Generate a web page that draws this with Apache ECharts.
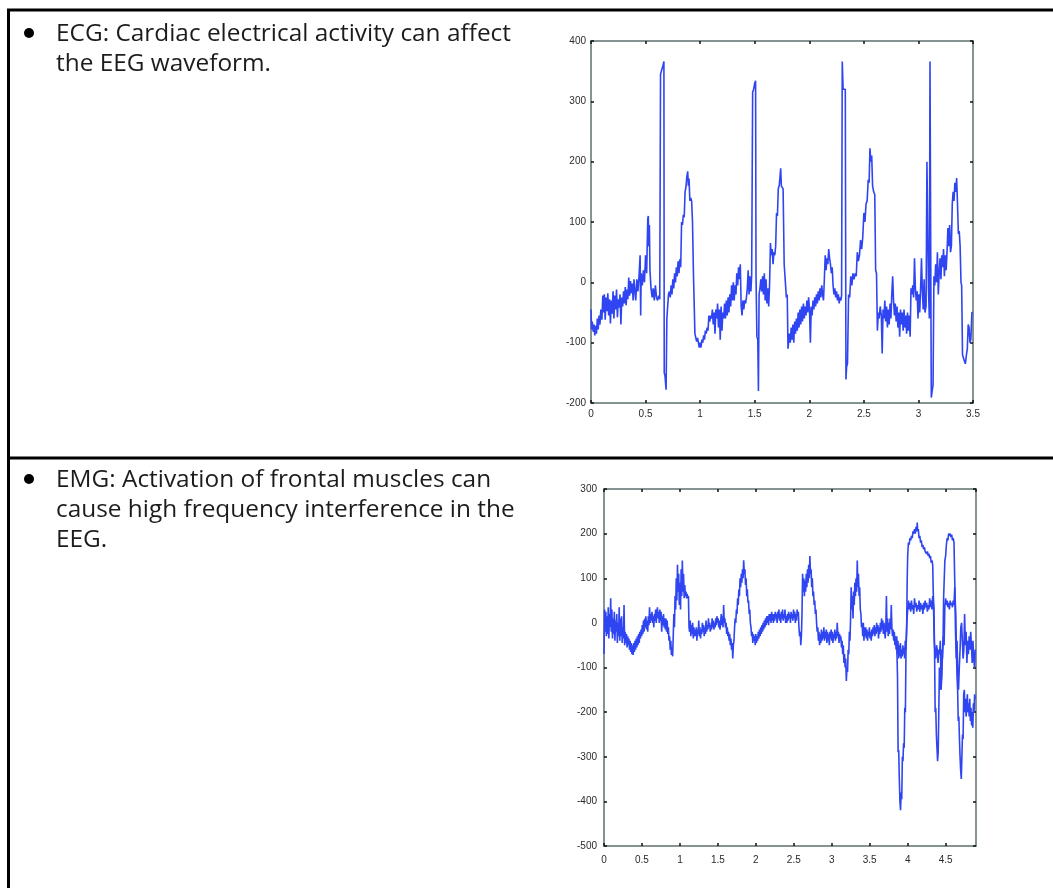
<!DOCTYPE html>
<html><head><meta charset="utf-8">
<script src="https://cdn.jsdelivr.net/npm/echarts/dist/echarts.min.js"></script>
<style>html,body{margin:0;padding:0;background:#fff;}#c{width:1053px;height:888px;}</style>
</head><body><div id="c"></div><script>
// ---- text ----
const ecgLines = ["ECG: Cardiac electrical activity can affect", "the EEG waveform."];
const emgLines = ["EMG: Activation of frontal muscles can", "cause high frequency interference in the", "EEG."];

// ---- axis settings ----
const ecgTimeMax = 3.5, ecgValMin = -200, ecgValMax = 400;
const emgTimeMax = 4.9, emgValMin = -500, emgValMax = 300;

// ---- ECG trace [time s, amplitude] ----
const ecgPoints = [
[0,-45],[0.005,-78],[0.012,-65],[0.02,-82],[0.028,-70],[0.035,-88],[0.043,-72],[0.05,-85],[0.058,-60],[0.066,-78],[0.074,-55],[0.082,-70],[0.09,-45],[0.1,-62],[0.108,-22],[0.115,-50],[0.122,-20],[0.13,-62],[0.138,-25],[0.146,-48],[0.154,-18],[0.162,-55],[0.17,-28],[0.178,-68],[0.186,-30],[0.194,-52],[0.202,-15],[0.21,-60],[0.218,-22],[0.226,-45],[0.234,-12],[0.242,-58],[0.25,-28],[0.258,-42],[0.266,-20],[0.274,-70],[0.282,-25],[0.29,-40],[0.298,-15],[0.306,-35],[0.314,-8],[0.322,-38],[0.33,-12],[0.338,-28],[0.346,8],[0.354,-22],[0.362,2],[0.37,-18],[0.378,-2],[0.386,-30],[0.394,5],
[0.4,-10],[0.41,-30],[0.42,5],[0.43,-15],[0.44,10],[0.45,45],[0.455,-55],[0.46,15],[0.47,-5],[0.48,20],[0.49,0],[0.5,45],[0.505,40],[0.51,15],[0.52,105],[0.525,110],[0.53,60],[0.535,95],[0.54,20],[0.55,-10],[0.56,-25],[0.57,-10],[0.58,-30],[0.59,-5],[0.6,-25],[0.61,-30],[0.62,-22],[0.63,-28],
[0.634,-25],[0.637,345],[0.655,345],[0.66,360],[0.668,366],[0.671,-150],[0.678,-155],[0.688,-178],[0.695,-60],[0.703,-62],
[0.71,-20],[0.718,-15],[0.726,-25],[0.734,-5],[0.742,-20],[0.75,5],[0.758,-10],[0.766,15],[0.774,0],[0.782,25],[0.79,10],[0.798,35],[0.806,15],[0.814,38],[0.822,25],[0.83,100],[0.838,95],[0.846,112],[0.854,108],[0.862,150],[0.87,158],[0.878,175],[0.886,184],[0.892,160],[0.898,172],[0.906,135],[0.914,140],[0.922,135],[0.93,100],[0.938,20],[0.946,18],[0.952,-85],[0.96,-88],[0.968,-98],[0.976,-92],[0.984,-100],[0.992,-108],[1.0,-100],[1.008,-108],[1.016,-95],[1.024,-100],[1.032,-88],[1.04,-95],[1.048,-80],[1.056,-85],[1.064,-75],[1.072,-80],[1.08,-55],[1.088,-65],[1.096,-55],[1.104,-60],[1.112,-45],[1.12,-70],[1.128,-50],[1.136,-85],[1.144,-45],[1.152,-60],[1.16,-35],[1.168,-75],[1.176,-45],[1.184,-95],[1.192,-40],[1.2,-80],[1.208,-50],[1.216,-60],[1.224,-35],[1.232,-60],[1.24,-30],[1.248,-55],[1.256,-25],[1.264,-50],[1.272,-20],[1.28,-40],[1.288,-5],[1.296,-30],[1.304,0],[1.312,-30],[1.32,-5],[1.328,-20],[1.336,15],[1.344,-5],[1.352,25],[1.36,5],[1.368,30],[1.376,-40],[1.384,-55],[1.392,-30],[1.4,-45],[1.408,-30],[1.416,-35],[1.424,-25],[1.432,-10],[1.44,20],[1.448,-20],[1.456,10],[1.465,-15],[1.472,12],
[1.478,15],[1.481,315],[1.49,320],[1.5,330],[1.508,334],[1.512,10],[1.52,-90],[1.528,-95],[1.534,-180],[1.54,-20],
[1.548,-10],[1.556,5],[1.564,-15],[1.572,10],[1.58,-20],[1.588,15],[1.596,-30],[1.604,5],[1.612,-35],[1.62,-10],[1.628,-40],[1.636,-5],[1.644,65],[1.652,45],[1.66,55],[1.668,30],[1.676,50],[1.684,45],[1.692,60],[1.7,115],[1.708,110],[1.716,155],[1.724,160],[1.732,175],[1.738,189],[1.744,160],[1.752,158],[1.76,155],[1.77,30],[1.778,30],[1.79,-25],[1.798,-20],[1.805,-110],
[1.81,-108],[1.818,-85],[1.826,-100],[1.834,-75],[1.842,-95],[1.85,-70],[1.858,-100],[1.866,-65],[1.874,-85],[1.882,-60],[1.89,-80],[1.898,-50],[1.906,-75],[1.914,-45],[1.922,-70],[1.93,-40],[1.938,-65],[1.946,-35],[1.954,-60],[1.962,-40],[1.97,-55],[1.978,-30],[1.986,-50],[1.994,-25],[2.002,-45],[2.01,-100],[2.018,-40],[2.026,-55],[2.034,-30],[2.042,-45],[2.05,-25],[2.058,-40],[2.066,-20],[2.074,-35],[2.082,-15],[2.09,-30],[2.098,-10],[2.106,-25],[2.114,-5],[2.122,-20],[2.13,-30],[2.138,5],[2.146,45],[2.154,20],[2.162,40],[2.17,30],[2.178,55],[2.186,40],[2.194,30],[2.202,15],[2.21,25],[2.218,-5],[2.226,-20],[2.234,-10],[2.242,-25],[2.25,-15],[2.258,-30],[2.266,-20],[2.274,-35],[2.282,-25],[2.29,-30],[2.296,-22],
[2.302,366],[2.31,320],[2.33,320],[2.336,-161],[2.342,-140],[2.35,-135],[2.36,-20],[2.37,-25],[2.38,10],[2.39,-5],[2.4,15],[2.41,5],[2.42,15],[2.43,10],[2.44,50],[2.45,35],[2.46,45],[2.47,70],[2.48,55],[2.49,75],[2.5,115],[2.51,100],[2.52,130],[2.53,135],[2.54,170],[2.548,165],[2.556,222],[2.564,200],[2.572,210],[2.58,160],[2.59,150],[2.6,145],[2.608,20],[2.616,15],[2.624,-80],[2.632,-50],[2.64,-60],[2.65,-40],[2.66,-55],[2.668,-118],[2.676,-45],
[2.684,-60],[2.692,-30],[2.7,-65],[2.708,-40],[2.716,-75],[2.724,-45],[2.732,-70],[2.74,-35],[2.748,-60],[2.756,-20],[2.764,10],[2.772,-30],[2.78,-55],[2.788,-35],[2.796,-65],[2.804,-40],[2.812,-75],[2.82,-50],[2.828,-90],[2.836,-45],[2.844,-70],[2.852,-50],[2.86,-80],[2.868,-45],[2.876,-75],[2.884,-55],[2.892,-85],[2.9,-50],[2.908,-80],[2.916,-55],[2.924,-90],[2.932,-10],[2.94,-20],[2.948,-5],[2.956,-25],[2.964,40],[2.972,-10],[2.98,-30],[2.988,-15],[2.996,-60],[3.004,-20],[3.012,-50],[3.02,-10],[3.028,40],[3.036,-15],[3.044,-45],[3.052,5],[3.06,-50],[3.07,-40],
[3.078,200],[3.086,200],[3.092,-10],[3.1,-60],[3.106,366],[3.112,366],[3.118,-191],[3.126,-180],[3.134,-170],[3.142,10],[3.15,-5],[3.158,30],[3.166,0],[3.174,50],[3.182,-20],[3.19,15],[3.198,40],[3.206,5],[3.214,45],[3.222,25],[3.23,55],[3.238,10],[3.246,45],[3.254,20],[3.262,50],[3.27,90],[3.278,60],[3.286,95],[3.294,50],[3.302,60],[3.31,130],[3.318,150],[3.326,135],[3.334,165],[3.342,150],[3.35,173],[3.358,130],[3.366,80],[3.374,85],[3.382,60],[3.39,0],[3.396,-5],[3.404,-120],[3.412,-125],[3.42,-130],[3.43,-135],[3.44,-120],[3.448,-110],[3.456,-70],[3.464,-75],[3.472,-100],[3.48,-95],[3.49,-50],[3.5,-50]
];

// ---- EMG main trace [time s, amplitude] ----
const emgPoints = [
[0,-70],[0.008,30],[0.016,-20],[0.024,25],[0.032,-30],[0.04,15],[0.048,-25],[0.056,35],[0.064,-35],[0.072,20],[0.08,-10],[0.088,55],[0.096,-20],[0.104,30],[0.112,-35],[0.12,10],[0.128,-25],[0.136,25],[0.144,-40],[0.152,5],[0.16,-20],[0.168,20],[0.176,-45],[0.184,0],[0.192,-30],[0.2,35],[0.208,-40],[0.216,10],[0.224,-30],[0.232,15],[0.24,-45],[0.248,-10],[0.256,-35],[0.264,40],[0.272,-50],[0.28,-20],[0.288,-45],[0.296,-25],[0.304,-55],[0.312,-30],[0.32,-50],[0.328,-35],[0.336,-60],[0.344,-40],[0.352,-65],[0.36,-45],[0.368,-70],[0.376,-50],[0.384,-72],[0.392,-45],[0.4,-65],[0.408,-40],[0.416,-60],[0.424,-35],[0.432,-55],[0.44,-30],[0.448,-50],[0.456,-25],[0.464,-45],[0.472,-20],[0.48,-35],[0.488,-15],[0.496,-30],
[0.504,-5],[0.512,-25],[0.52,5],[0.528,-20],[0.536,10],[0.544,-10],[0.552,15],[0.56,-15],[0.568,5],[0.576,-20],[0.584,15],[0.592,-5],[0.6,35],[0.608,0],[0.616,20],[0.624,5],[0.632,25],[0.64,0],[0.648,15],[0.656,-10],[0.664,20],[0.672,5],[0.68,30],[0.688,0],[0.696,20],[0.704,35],[0.712,10],[0.72,25],[0.728,0],[0.736,30],[0.744,5],[0.752,25],[0.76,-20],[0.768,15],[0.776,-5],[0.784,20],[0.792,-10],[0.8,10],[0.808,-15],[0.816,10],[0.824,-20],[0.832,5],[0.84,-25],[0.848,-10],[0.856,-40],[0.864,-30],[0.872,-60],[0.88,-40],[0.888,-72],[0.896,-55],[0.904,-75],[0.912,-30],[0.92,20],[0.928,-10],[0.936,60],[0.944,30],[0.952,100],[0.96,50],[0.968,130],[0.976,70],[0.984,110],[0.992,40],[1.0,90],[1.008,30],[1.016,120],[1.024,60],[1.032,140],[1.04,70],[1.048,110],[1.056,55],[1.064,85],[1.072,60],[1.08,70],[1.088,55],[1.096,65],[1.104,55],[1.112,60],[1.12,-10],[1.128,-20],[1.136,5],[1.144,-30],[1.152,-5],[1.16,-25],[1.168,0],[1.176,-35],[1.184,-10],[1.192,-30],[1.2,-15],
[1.208,-30],[1.216,-10],[1.224,-40],[1.232,-15],[1.24,-25],[1.248,5],[1.256,-30],[1.264,-10],[1.272,-35],[1.28,-15],[1.288,-25],[1.296,0],[1.304,-20],[1.312,-5],[1.32,-30],[1.328,-10],[1.336,-25],[1.344,5],[1.352,-20],[1.36,-5],[1.368,-15],[1.376,10],[1.384,-10],[1.392,0],[1.4,-20],[1.408,-5],[1.416,-15],[1.424,10],[1.432,-10],[1.44,5],[1.448,-15],[1.456,0],[1.464,-10],[1.472,10],[1.48,-5],[1.488,15],[1.496,0],[1.504,10],[1.512,-10],[1.52,5],[1.528,-15],[1.536,0],[1.544,20],[1.552,-5],[1.56,15],[1.568,-10],[1.576,40],[1.584,0],[1.592,10],[1.6,-10],[1.608,0],[1.616,-25],[1.624,-10],[1.632,-30],[1.64,-20],[1.648,-40],[1.656,-25],[1.664,-50],[1.672,-35],[1.68,-60],[1.688,-45],[1.696,-80],
[1.704,-50],[1.712,-40],[1.72,-10],[1.728,10],[1.736,0],[1.744,30],[1.752,20],[1.76,55],[1.768,40],[1.776,75],[1.784,60],[1.792,100],[1.8,80],[1.808,110],[1.816,90],[1.824,120],[1.832,100],[1.84,140],[1.848,110],[1.856,120],[1.864,85],[1.872,100],[1.88,60],[1.888,75],[1.896,45],[1.904,50],[1.912,20],[1.92,30],[1.928,0],[1.936,-10],[1.944,-30],[1.952,-20],[1.96,-45],[1.968,-25],[1.976,-40],[1.984,-30],[1.992,-50],[2.0,-25],[2.008,-45],[2.016,-30],[2.024,-40],[2.032,-20],[2.04,-35],[2.048,-15],[2.056,-30],[2.064,-10],[2.072,-25],[2.08,-5],[2.088,-20],[2.096,0],[2.104,-15],[2.112,5],[2.12,-10],[2.128,10],[2.136,-5],[2.144,15],[2.152,0],[2.16,15],[2.168,-5],[2.176,20],[2.184,5],[2.192,20],[2.2,0],[2.208,25],[2.216,5],[2.224,20],[2.232,0],[2.24,20],[2.248,5],[2.256,25],[2.264,10],[2.272,20],[2.28,0],[2.288,25],[2.296,10],[2.304,30],[2.312,5],[2.32,20],[2.328,0],[2.336,25],[2.344,10],[2.352,30],[2.36,5],[2.368,20],[2.376,10],[2.384,30],[2.392,0],
[2.4,15],[2.408,0],[2.416,20],[2.424,5],[2.432,25],[2.44,10],[2.448,20],[2.456,0],[2.464,25],[2.472,10],[2.48,20],[2.488,5],[2.496,30],[2.504,10],[2.512,25],[2.52,0],[2.528,20],[2.536,5],[2.544,30],[2.552,15],[2.56,25],[2.568,-10],[2.576,-30],[2.584,-20],[2.592,-50],[2.6,-30],[2.608,20],[2.616,110],[2.624,70],[2.632,100],[2.64,60],[2.648,95],[2.656,70],[2.664,110],[2.672,80],[2.68,120],[2.688,90],[2.696,130],[2.704,100],[2.712,150],[2.72,110],[2.728,120],[2.736,80],[2.744,100],[2.752,60],[2.76,70],[2.768,40],[2.776,50],[2.784,20],[2.792,30],[2.8,0],[2.808,-20],[2.816,-10],[2.824,-40],[2.832,-20],[2.84,-50],[2.848,-25],[2.856,-45],[2.864,-15],[2.872,-40],[2.88,-20],[2.888,-35],[2.896,-10],[2.904,-40],[2.912,-20],[2.92,-35],[2.928,-15],[2.936,-45],[2.944,-20],[2.952,-40],[2.96,-25],[2.968,-50],[2.976,-20],[2.984,-35],[2.992,-15],[3.0,-40],[3.008,-20],[3.016,-45],[3.024,-25],[3.032,-35],[3.04,-15],[3.048,-40],[3.056,-20],[3.064,-35],[3.072,0],[3.08,-30],[3.088,-20],[3.096,-45],[3.104,-25],[3.112,-40],[3.12,-30],[3.128,-55],[3.136,-40],[3.144,-70],[3.152,-50],[3.16,-90],[3.168,-70],[3.176,-100],[3.184,-80],[3.192,-130],[3.2,-100],[3.208,-110],[3.216,-60],[3.224,-70],[3.232,-20],[3.24,-40],[3.248,10],[3.256,80],[3.264,30],[3.272,60],[3.28,10],[3.288,70],[3.296,40],[3.304,90],[3.312,60],[3.32,100],[3.328,70],[3.336,140],[3.344,80],[3.352,110],[3.36,60],[3.368,80],[3.376,30],[3.384,20],[3.392,-10],[3.4,0],[3.408,-30],[3.416,0],[3.424,-40],[3.432,-10],[3.44,-30],[3.448,-10],[3.456,-35],[3.464,-15],[3.472,-40],[3.48,-20],[3.488,-30],[3.496,-10],[3.504,-35],[3.512,-20],[3.52,-40],[3.528,-15],[3.536,-30],[3.544,-10],[3.552,-25],[3.56,-5],[3.568,-30],[3.576,-10],[3.584,-25],[3.592,0],[3.6,-20],[3.608,-5],[3.616,-35],[3.624,-10],[3.632,-25],[3.64,0],[3.648,-20],[3.656,10],[3.664,-15],[3.672,5],[3.68,-25],[3.688,0],[3.696,-15],[3.704,-35],[3.712,-10],[3.72,60],[3.728,-20],[3.736,10],[3.744,-30],[3.752,0],[3.76,-25],[3.768,10],[3.776,-15],[3.784,40],[3.792,-10],[3.8,-30],[3.808,-15],[3.816,-40],[3.824,-20],[3.832,-50],[3.84,-30],
[3.848,-60],[3.856,-30],[3.864,-70],[3.872,-40],[3.88,-80],[3.888,-50],[3.896,-75],[3.904,-45],[3.912,-80],[3.92,-60],[3.928,-75],[3.936,-50],[3.944,-70],[3.952,-55],[3.96,-80],[3.968,-40],[3.976,-60],[3.984,-20],[3.992,10],[4.0,30],[4.01,50],[4.02,30],[4.03,45],[4.04,25],[4.05,50],[4.06,30],[4.07,40],[4.08,20],[4.09,55],[4.1,35],[4.11,45],[4.12,25],[4.13,40],[4.14,30],[4.15,50],[4.16,25],[4.17,45],[4.18,30],[4.19,40],[4.2,20],[4.21,45],[4.22,30],[4.23,50],[4.24,35],[4.25,45],[4.26,25],[4.27,40],[4.28,30],[4.29,55],[4.3,35],[4.31,50],[4.32,30],[4.33,60],[4.34,40],[4.35,-40],[4.36,-70],[4.37,-80],[4.38,-50],[4.39,-60],[4.4,-90],[4.41,-60],[4.42,-70],[4.43,-40],[4.44,-150],[4.45,-120],[4.46,-60],[4.47,-30],[4.48,-50],[4.49,40],[4.5,55],[4.51,40],[4.52,50],[4.53,35],[4.54,45],[4.55,30],[4.56,50],[4.57,40],[4.58,45],[4.59,35],[4.6,50],[4.61,40],[4.62,80],[4.63,-20],[4.64,-80],[4.65,-40],[4.66,-110],[4.67,-150],[4.68,-100],[4.69,-60],[4.7,-10],[4.71,0],[4.72,-40],[4.73,-80],[4.74,-60],[4.75,20],[4.76,-50],[4.77,-20],[4.78,-90],[4.79,-40],[4.8,-70],[4.81,-30],[4.82,-60],[4.83,-20],[4.84,-50],[4.85,-90],[4.86,-40],[4.87,-80],[4.88,-100],[4.89,-60]
];

// ---- EMG large-excursion trace [time s, amplitude] ----
const emgBurstPoints = [
[3.85,-40],[3.858,-60],[3.866,-120],[3.874,-290],[3.882,-285],[3.89,-350],[3.898,-400],[3.906,-420],[3.914,-380],[3.922,-395],[3.93,-300],[3.938,-310],[3.946,-270],[3.954,-280],[3.962,-190],[3.97,-200],[3.978,-60],[3.986,-20],[3.994,100],[4.0,150],[4.01,180],[4.02,175],[4.03,190],[4.04,185],[4.05,195],[4.06,190],[4.07,205],[4.08,200],[4.09,210],[4.1,200],[4.11,215],[4.12,205],[4.126,225],[4.132,205],[4.14,210],[4.15,190],[4.16,195],[4.17,180],[4.18,185],[4.19,170],[4.2,175],[4.21,165],[4.22,170],[4.23,160],[4.24,162],[4.25,155],[4.26,160],[4.27,150],[4.28,155],[4.29,145],[4.3,150],[4.31,135],[4.32,140],[4.33,130],[4.338,60],[4.346,30],[4.354,-60],[4.362,-200],[4.37,-190],[4.378,-250],[4.386,-280],[4.394,-310],[4.402,-290],[4.41,-200],[4.418,-100],[4.426,-120],[4.434,-150],[4.442,-130],[4.45,-60],[4.458,-80],[4.466,-40],[4.474,60],[4.482,100],[4.49,140],[4.5,150],[4.51,175],[4.52,190],[4.53,185],[4.54,200],[4.55,195],[4.56,200],[4.57,192],[4.58,198],[4.59,185],[4.6,190],[4.61,180],[4.618,110],[4.626,50],[4.634,20],[4.642,-60],[4.65,-120],[4.658,-150],[4.666,-220],[4.674,-210],[4.682,-260],[4.69,-300],[4.698,-330],[4.706,-350],[4.714,-300],[4.722,-250],[4.73,-260],[4.738,-160],[4.746,-150],[4.754,-200],[4.762,-170],[4.77,-210],[4.778,-190],[4.786,-160],[4.794,-200],[4.802,-180],[4.81,-210],[4.818,-170],[4.826,-220],[4.834,-190],[4.842,-230],[4.85,-200],[4.858,-235],[4.866,-180],[4.874,-200],[4.882,-160],[4.89,-170]
];

const TRACE = '#2f45f2';
const AXIS = '#869393';
const labelStyle = {fontSize: 10, color: '#2a2a2a', fontFamily: 'Liberation Sans'};
const BODY_FONT = '24.4px "Open Sans"';

function xAxisFor(grid, max, pos, showLabel, margin) {
  return {type:'value', gridIndex:grid, min:0, max:max, interval:0.5, position:pos,
    axisLine:{show:true, onZero:false, lineStyle:{color:AXIS, width:2}},
    axisTick:{show:true, inside:true, length:3, lineStyle:{color:'#111', width:1.5}},
    splitLine:{show:false},
    axisLabel:Object.assign({show:showLabel, margin:margin, showMaxLabel: max === 3.5}, labelStyle)};
}
function yAxisFor(grid, min, max, pos, showLabel, margin) {
  return {type:'value', gridIndex:grid, min:min, max:max, interval:100, position:pos,
    axisLine:{show:true, onZero:false, lineStyle:{color:AXIS, width:2}},
    axisTick:{show:true, inside:true, length:3, lineStyle:{color:'#111', width:1.5}},
    splitLine:{show:false},
    axisLabel:Object.assign({show:showLabel, margin:margin}, labelStyle)};
}

const graphics = [
  {type:'line', shape:{x1:7, y1:10, x2:1053, y2:10}, style:{stroke:'#000', lineWidth:3}},
  {type:'line', shape:{x1:8.5, y1:9, x2:8.5, y2:888}, style:{stroke:'#000', lineWidth:3}},
  {type:'line', shape:{x1:7, y1:458, x2:1053, y2:458}, style:{stroke:'#000', lineWidth:3}},
  {type:'circle', shape:{cx:29, cy:33, r:5}, style:{fill:'#000'}},
  {type:'circle', shape:{cx:29, cy:479, r:5}, style:{fill:'#000'}}
];
ecgLines.forEach((t, i) => graphics.push({type:'text', style:{text:t, x:56, y:34 + i*30, font:BODY_FONT, fill:'#1c1c1c', verticalAlign:'middle'}}));
emgLines.forEach((t, i) => graphics.push({type:'text', style:{text:t, x:56, y:480 + i*30, font:BODY_FONT, fill:'#1c1c1c', verticalAlign:'middle'}}));

const chart = echarts.init(document.getElementById('c'), null, {renderer:'canvas'});
chart.setOption({
  animation:false,
  backgroundColor:'#ffffff',
  grid:[
    {left:591, top:41, width:382, height:362},
    {left:604, top:489, width:372, height:357}
  ],
  xAxis:[
    xAxisFor(0, ecgTimeMax, 'bottom', true, 6),
    xAxisFor(0, ecgTimeMax, 'top', false, 6),
    xAxisFor(1, emgTimeMax, 'bottom', true, 9),
    xAxisFor(1, emgTimeMax, 'top', false, 9)
  ],
  yAxis:[
    yAxisFor(0, ecgValMin, ecgValMax, 'left', true, 5),
    yAxisFor(0, ecgValMin, ecgValMax, 'right', false, 5),
    yAxisFor(1, emgValMin, emgValMax, 'left', true, 7),
    yAxisFor(1, emgValMin, emgValMax, 'right', false, 7)
  ],
  series:[
    {type:'line', xAxisIndex:0, yAxisIndex:0, data:ecgPoints, showSymbol:false, lineStyle:{color:TRACE, width:1.6}, silent:true},
    {type:'line', xAxisIndex:2, yAxisIndex:2, data:emgPoints, showSymbol:false, lineStyle:{color:TRACE, width:1.6}, silent:true},
    {type:'line', xAxisIndex:2, yAxisIndex:2, data:emgBurstPoints, showSymbol:false, lineStyle:{color:TRACE, width:1.6}, silent:true}
  ],
  graphic:graphics
});
</script></body></html>
